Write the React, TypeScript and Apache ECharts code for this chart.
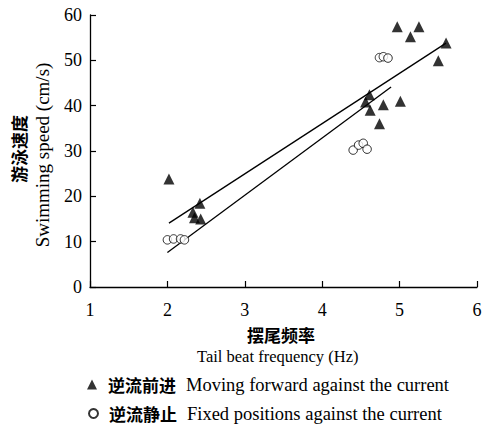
import React, { useEffect, useRef } from "react";
import * as echarts from "echarts";

// Tick values
const xTicks = [1, 2, 3, 4, 5, 6];
const yTicks = [0, 10, 20, 30, 40, 50, 60];

// 逆流前进 Moving forward against the current
const forwardX = [2.02, 2.42, 2.33, 2.35, 2.43, 4.61, 4.56, 4.79, 5.01, 4.62, 4.74, 4.97, 5.25, 5.14, 5.6, 5.5];
const forwardY = [23.8, 18.5, 16.5, 15.3, 15.0, 42.4, 40.8, 40.2, 41.0, 39.0, 36.0, 57.4, 57.4, 55.2, 53.8, 49.9];

// 逆流静止 Fixed positions against the current
const fixedX = [2.0, 2.08, 2.17, 2.22, 4.4, 4.47, 4.53, 4.58, 4.74, 4.79, 4.85];
const fixedY = [10.4, 10.6, 10.6, 10.4, 30.2, 31.3, 31.7, 30.4, 50.6, 50.8, 50.5];

// Fitted regression lines (endpoints)
const forwardFitX = [2.02, 5.6];
const forwardFitY = [14.1, 53.8];
const fixedFitX = [2.0, 4.89];
const fixedFitY = [7.6, 44.1];

const legendCn = ["逆流前进", "逆流静止"];
const legendEn = ["Moving forward against the current", "Fixed positions against the current"];

const SERIF = "'Liberation Serif', 'Times New Roman', serif";
const CJK = "'Noto Sans CJK SC', sans-serif";

const zip = (xs: number[], ys: number[]) => xs.map((x, i) => [x, ys[i]]);

const legendText = {
  color: "#000",
  rich: {
    cn: { fontFamily: CJK, fontWeight: "bold", fontSize: 17, color: "#000", lineHeight: 20, padding: [0, 0, 0, 6] },
    en: { fontFamily: SERIF, fontSize: 18.5, color: "#000", lineHeight: 20, padding: [0, 0, 0, 10] },
  },
};
const legendFormatter = (name: string) => {
  const i = legendCn.indexOf(name);
  return `{cn|${name}}{en|${legendEn[i]}}`;
};

export default function App() {
  const ref = useRef<HTMLDivElement>(null);
  useEffect(() => {
    if (!ref.current) return;
    const chart = echarts.init(ref.current, undefined, { renderer: "svg" });
    chart.setOption({
      animation: false,
      backgroundColor: "#ffffff",
      grid: { left: 90, right: 12, top: 15, bottom: 143, containLabel: false },
      xAxis: {
        type: "value",
        min: xTicks[0],
        max: xTicks[xTicks.length - 1],
        interval: 1,
        axisLine: { lineStyle: { color: "#000", width: 1.3 } },
        axisTick: { inside: true, length: 6, lineStyle: { color: "#000", width: 1.2 } },
        axisLabel: { color: "#000", fontFamily: SERIF, fontSize: 18, margin: 14 },
        splitLine: { show: false },
      },
      yAxis: {
        type: "value",
        min: yTicks[0],
        max: yTicks[yTicks.length - 1],
        interval: 10,
        axisLine: { show: true, lineStyle: { color: "#000", width: 1.3 } },
        axisTick: { show: true, inside: true, length: 6, lineStyle: { color: "#000", width: 1.2 } },
        axisLabel: { color: "#000", fontFamily: SERIF, fontSize: 18, margin: 8 },
        splitLine: { show: false },
      },
      legend: [
        {
          orient: "vertical",
          left: 82,
          top: 370,
          itemWidth: 10,
          itemHeight: 10,
          data: [legendCn[0]],
          formatter: legendFormatter,
          textStyle: legendText,
        },
        {
          orient: "vertical",
          left: 83,
          top: 399,
          itemWidth: 9,
          itemHeight: 9,
          data: [legendCn[1]],
          formatter: legendFormatter,
          textStyle: legendText,
        },
      ],
      graphic: [
        {
          type: "text",
          x: 18,
          y: 149,
          rotation: Math.PI / 2,
          style: { text: "游泳速度", fontFamily: CJK, fontWeight: "bold", fontSize: 17, fill: "#000", align: "center", verticalAlign: "middle" },
        },
        {
          type: "text",
          x: 42,
          y: 155,
          rotation: Math.PI / 2,
          style: { text: "Swimming speed (cm/s)", fontFamily: SERIF, fontSize: 19, fill: "#000", align: "center", verticalAlign: "middle" },
        },
        {
          type: "text",
          x: 281,
          y: 334,
          style: { text: "摆尾频率", fontFamily: CJK, fontWeight: "bold", fontSize: 17, fill: "#000", align: "center", verticalAlign: "middle" },
        },
        {
          type: "text",
          x: 197,
          y: 356,
          style: { text: "Tail beat frequency (Hz)", fontFamily: SERIF, fontSize: 16.5, fill: "#000", align: "left", verticalAlign: "middle" },
        },
      ],
      series: [
        {
          name: legendCn[0],
          type: "scatter",
          symbol: "triangle",
          symbolSize: 11,
          itemStyle: { color: "#000" },
          data: zip(forwardX, forwardY),
          z: 3,
        },
        {
          name: legendCn[1],
          type: "scatter",
          symbol: "circle",
          symbolSize: 8.5,
          itemStyle: { color: "#fff", borderColor: "#000", borderWidth: 1 },
          data: zip(fixedX, fixedY),
          z: 3,
        },
        {
          name: "fit-forward",
          type: "line",
          symbol: "none",
          lineStyle: { color: "#000", width: 1.3 },
          data: zip(forwardFitX, forwardFitY),
          z: 2,
        },
        {
          name: "fit-fixed",
          type: "line",
          symbol: "none",
          lineStyle: { color: "#000", width: 1.3 },
          data: zip(fixedFitX, fixedFitY),
          z: 2,
        },
      ],
    });
    return () => chart.dispose();
  }, []);
  return <div ref={ref} style={{ position: "fixed", left: 0, top: 0, width: 489, height: 430 }} />;
}
